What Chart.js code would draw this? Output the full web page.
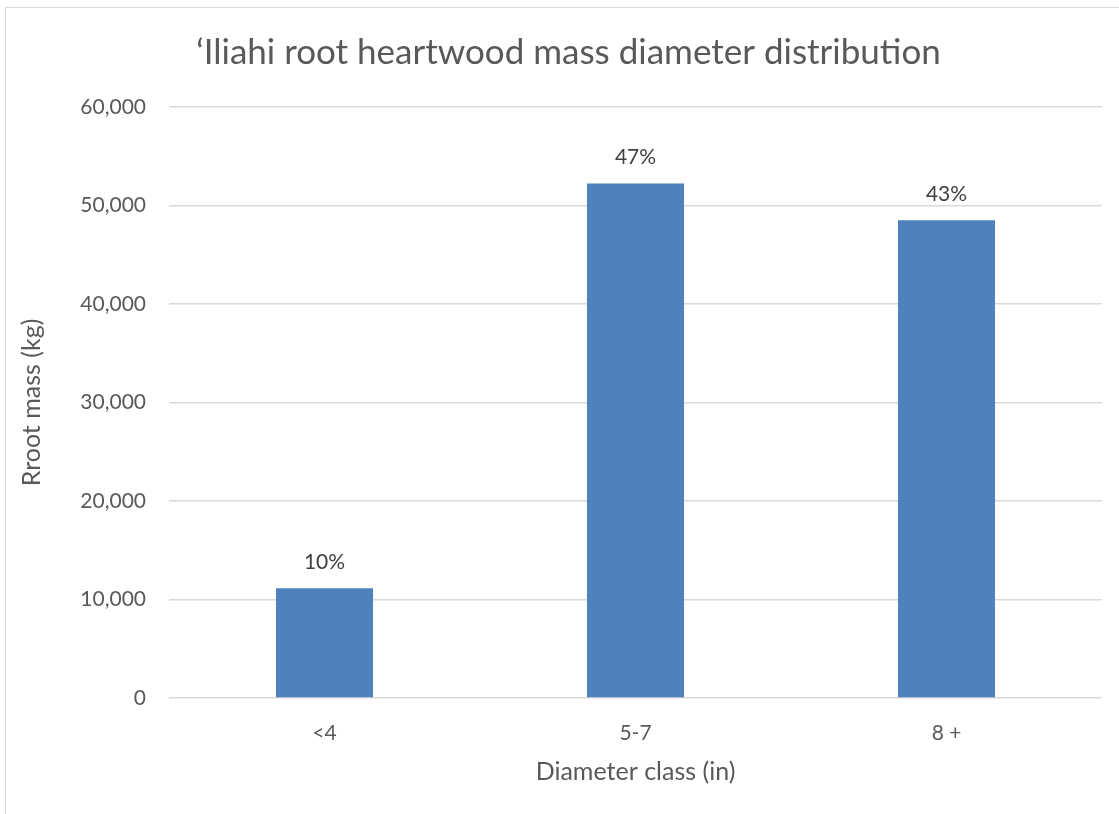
<!DOCTYPE html>
<html>
<head>
<meta charset="utf-8">
<style>
  html, body { margin: 0; padding: 0; background: #ffffff; overflow: hidden; }
  #wrap { position: relative; width: 1119px; height: 814px; }
</style>
<script src="https://cdn.jsdelivr.net/npm/chart.js@4.4.1/dist/chart.umd.min.js"></script>
</head>
<body>
<div id="wrap"><canvas id="c" width="1119" height="814"></canvas></div>
<script>
// Heartwood root mass per diameter class
const categories = ['<4', '5-7', '8 +'];
const rootMass = [11150, 52230, 48510];
const shareLabels = ['10%', '47%', '43%'];
const yTicks = [0, 10000, 20000, 30000, 40000, 50000, 60000];

const FONT = 'Lato, "Open Sans", "Liberation Sans", sans-serif';
const TEXT = '#595959';

// Light frame around the chart space
const framePlugin = {
  id: 'frame',
  beforeDraw(chart) {
    const ctx = chart.ctx;
    ctx.save();
    ctx.strokeStyle = '#d9d9d9';
    ctx.lineWidth = 1;
    ctx.strokeRect(5.5, 7.5, chart.width + 20, chart.height + 20);
    ctx.restore();
  }
};

// Percentage label above each bar
const shareLabelPlugin = {
  id: 'shareLabels',
  afterDatasetsDraw(chart) {
    const ctx = chart.ctx;
    const meta = chart.getDatasetMeta(0);
    ctx.save();
    ctx.font = '21px ' + FONT;
    ctx.fillStyle = '#404040';
    ctx.textAlign = 'center';
    ctx.textBaseline = 'middle';
    meta.data.forEach((bar, i) => {
      ctx.fillText(shareLabels[i], bar.x, bar.y - 26);
    });
    ctx.restore();
  }
};

new Chart(document.getElementById('c'), {
  type: 'bar',
  data: {
    labels: categories,
    datasets: [{
      data: rootMass,
      backgroundColor: '#4f81bd',
      borderWidth: 0,
      categoryPercentage: 1.0,
      barPercentage: 0.312
    }]
  },
  options: {
    responsive: false,
    animation: false,
    layout: { padding: { left: 35, right: 17, top: 0, bottom: 0 } },
    plugins: {
      legend: { display: false },
      tooltip: { enabled: false },
      title: {
        display: true,
        text: '\u2018Iliahi root heartwood mass diameter distribution',
        color: TEXT,
        font: { family: FONT, size: 35, weight: 'normal', lineHeight: 1.2 },
        padding: { top: 32, bottom: 33 }
      }
    },
    scales: {
      x: {
        grid: { display: false },
        border: { display: false },
        ticks: { color: TEXT, font: { family: FONT, size: 21 }, padding: 15 },
        title: {
          display: true,
          text: 'Diameter class (in)',
          color: TEXT,
          font: { family: FONT, size: 25, lineHeight: 1.2 },
          padding: { top: 10, bottom: 27 }
        },
        afterFit(scale) { scale.height = 116; }
      },
      y: {
        min: 0,
        max: 60000,
        afterBuildTicks(scale) { scale.ticks = yTicks.map(v => ({ value: v })); },
        grid: { color: '#d9d9d9', lineWidth: 1.5, drawTicks: false },
        border: { display: false },
        ticks: {
          color: TEXT,
          font: { family: FONT, size: 21 },
          padding: 23,
          callback: v => v.toLocaleString('en-US')
        },
        title: {
          display: true,
          text: 'Rroot mass (kg)',
          color: TEXT,
          font: { family: FONT, size: 25, lineHeight: 1.2 },
          padding: { top: -18, bottom: 0 }
        },
        afterFit(scale) { scale.width = 134; }
      }
    }
  },
  plugins: [framePlugin, shareLabelPlugin]
});
</script>
</body>
</html>
